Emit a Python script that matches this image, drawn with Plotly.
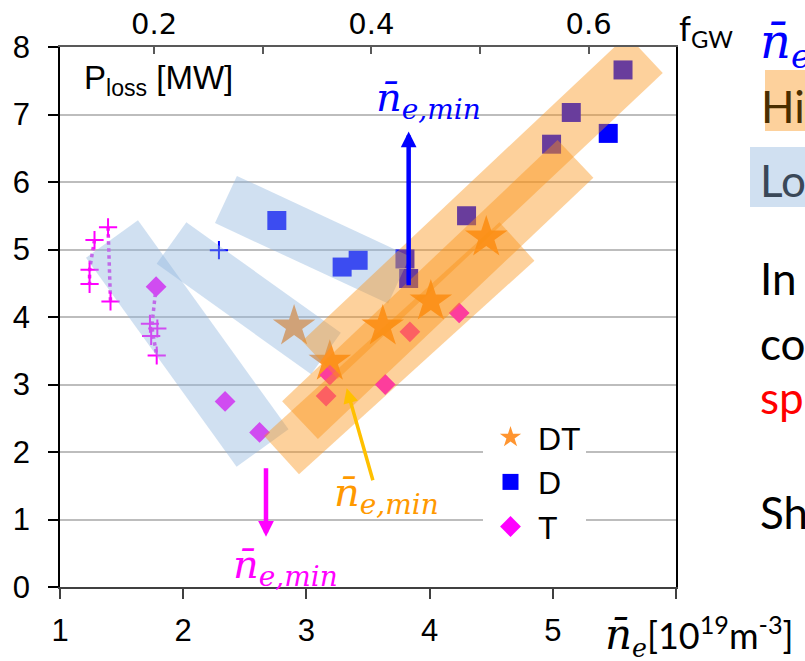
import math
import plotly.graph_objects as go

# ---------------- data ----------------
dt_x = [2.90, 3.19, 3.62, 4.01, 4.46]
dt_y = [3.86, 3.34, 3.86, 4.23, 5.18]

d_x = [2.76, 3.29, 3.42, 3.80, 3.83, 4.30, 4.99, 5.15, 5.57, 5.45]
d_y = [5.43, 4.74, 4.84, 4.86, 4.57, 5.50, 6.56, 7.03, 7.66, 6.72]

t_x = [1.78, 2.34, 2.62, 3.19, 3.16, 3.64, 3.84, 4.24]
t_y = [4.45, 2.75, 2.29, 3.14, 2.83, 3.00, 3.78, 4.06]

tplus_x = [1.39, 1.28, 1.24, 1.24, 1.41, 1.73, 1.79, 1.74, 1.785]
tplus_y = [5.33, 5.14, 4.70, 4.49, 4.23, 3.90, 3.83, 3.72, 3.43]

dplus_x = [2.29]
dplus_y = [4.99]

# dotted scan paths (T)
path1_x = [1.39, 1.41]
path1_y = [5.33, 4.23]
path2_x = [1.28, 1.24, 1.24]
path2_y = [5.14, 4.70, 4.49]
path3_x = [1.78, 1.745, 1.785]
path3_y = [4.45, 3.86, 3.43]

x_ticks = [1, 2, 3, 4, 5, 6]
x_ticktext = ["1", "2", "3", "4", "5", ""]
y_ticks = [0, 1, 2, 3, 4, 5, 6, 7, 8]
fgw_ticks = [0.2, 0.3, 0.4, 0.5, 0.6]
fgw_ticktext = ["0.2", "", "0.4", "", "0.6"]
FGW_PER_NE = 0.1134

# ---------------- layout geometry ----------------
W, H = 805, 661
ML, MR, MT, MB = 60, 129, 47, 74
X0, X1 = 1, 6
Y0, Y1 = 0, 8
PW, PH = W - ML - MR, H - MT - MB
SX = PW / (X1 - X0)
SY = PH / (Y1 - Y0)

BLUE_BAND = "rgba(143,181,222,0.42)"
ORANGE_BAND = "rgba(250,145,20,0.42)"

# highlight bands: (start(x,y), end(x,y), width in px)
blue_bands = [((1.422, 5.156), (2.644, 2.059), 64),
              ((1.905, 5.096), (3.159, 3.459), 51),
              ((2.347, 5.741), (3.752, 4.548), 52)]
orange_bands = [((3.110, 3.363), (5.748, 7.896), 52),
                ((2.948, 2.474), (5.184, 6.341), 52),
                ((2.798, 1.956), (4.709, 5.119), 52)]


def band_path(a, b, wpx):
    ax, ay = a[0] * SX, a[1] * SY
    bx, by = b[0] * SX, b[1] * SY
    dx, dy = bx - ax, by - ay
    L = math.hypot(dx, dy)
    nx, ny = -dy / L * wpx / 2, dx / L * wpx / 2
    pts = [(ax + nx, ay + ny), (bx + nx, by + ny), (bx - nx, by - ny), (ax - nx, ay - ny)]
    return "M " + " L ".join(f"{px / SX:.4f},{py / SY:.4f}" for px, py in pts) + " Z"


def px2paper(px, py):
    return (px - ML) / PW, (H - MB - py) / PH


fig = go.Figure()

MAG = "#FF00FF"
dot_line = dict(color="#E434F0", width=3.5, dash="dot")
for px_, py_ in [(path1_x, path1_y), (path2_x, path2_y), (path3_x, path3_y)]:
    fig.add_trace(go.Scatter(x=px_, y=py_, mode="lines", line=dot_line,
                             showlegend=False, hoverinfo="skip"))

fig.add_trace(go.Scatter(x=tplus_x, y=tplus_y, mode="markers", showlegend=False,
                         marker=dict(symbol="cross-thin", size=13,
                                     line=dict(color=MAG, width=2))))
fig.add_trace(go.Scatter(x=dplus_x, y=dplus_y, mode="markers", showlegend=False,
                         marker=dict(symbol="cross-thin", size=13,
                                     line=dict(color="#0000FF", width=2))))

fig.add_trace(go.Scatter(x=dt_x, y=dt_y, mode="markers", name="DT",
                         marker=dict(symbol="star", size=32, color="#FF9530",
                                     line=dict(width=0))))
fig.add_trace(go.Scatter(x=d_x, y=d_y, mode="markers", name="D",
                         marker=dict(symbol="square", size=19, color="#0000FF",
                                     line=dict(width=0))))
fig.add_trace(go.Scatter(x=t_x, y=t_y, mode="markers", name="T",
                         marker=dict(symbol="diamond", size=16, color=MAG,
                                     line=dict(width=0))))
# invisible trace to activate the top f_GW axis
fig.add_trace(go.Scatter(x=[], y=[], xaxis="x2", showlegend=False))

shapes = []
for a, b, w in blue_bands:
    shapes.append(dict(type="path", path=band_path(a, b, w), fillcolor=BLUE_BAND,
                       line=dict(width=0), layer="above", xref="x", yref="y"))
for a, b, w in orange_bands:
    shapes.append(dict(type="path", path=band_path(a, b, w), fillcolor=ORANGE_BAND,
                       line=dict(width=0), layer="above", xref="x", yref="y"))

# highlight boxes of the slide text at the right
for (x0p, y0p, x1p, y1p), col in [((765, 70, 810, 131), ORANGE_BAND),
                                  ((750, 147, 810, 207), BLUE_BAND)]:
    a0 = px2paper(x0p, y1p)
    a1 = px2paper(x1p, y0p)
    shapes.append(dict(type="rect", xref="paper", yref="paper", x0=a0[0], y0=a0[1],
                       x1=a1[0], y1=a1[1], fillcolor=col, line=dict(width=0), layer="below"))

SERIF = "DejaVu Serif"
SANS = "Lato"
NBAR = "n\u0304"

ann = []
# arrows
ann.append(dict(x=3.83, y=6.75, ax=3.83, ay=4.45, xref="x", yref="y", axref="x", ayref="y",
                showarrow=True, arrowhead=2, arrowwidth=4.5, arrowsize=0.7,
                arrowcolor="#0000FF", text="", standoff=0))
ann.append(dict(x=3.327, y=2.944, ax=3.543, ay=1.56, xref="x", yref="y", axref="x", ayref="y",
                showarrow=True, arrowhead=2, arrowwidth=3.5, arrowsize=0.85,
                arrowcolor="#FFC000", text="", standoff=0))
ann.append(dict(x=2.672, y=0.745, ax=2.672, ay=1.782, xref="x", yref="y", axref="x", ayref="y",
                showarrow=True, arrowhead=2, arrowwidth=4.5, arrowsize=0.7,
                arrowcolor=MAG, text="", standoff=0))
# n_e,min labels
for (lx, ly), col in [((3.987, 7.22), "#0000FF"), ((3.654, 1.36), "#FF9900"),
                      ((2.834, 0.30), MAG)]:
    ann.append(dict(x=lx, y=ly, xref="x", yref="y", showarrow=False,
                    text=f"<i>{NBAR}<sub>e,min</sub></i>",
                    font=dict(family=SERIF, size=40, color=col),
                    xanchor="center", yanchor="middle"))

# P_loss label
p = px2paper(82, 80)
ann.append(dict(x=p[0], y=p[1], xref="paper", yref="paper", showarrow=False,
                text="P<sub>loss</sub> [MW]", xanchor="left", yanchor="middle",
                font=dict(family="Liberation Sans, Arial", size=33, color="#000000")))
# f_GW label
p = px2paper(677, 30)
ann.append(dict(x=p[0], y=p[1], xref="paper", yref="paper", showarrow=False,
                text="f<sub>GW</sub>", xanchor="left", yanchor="middle",
                font=dict(family=SANS, size=34, color="#000000")))
# x-axis title
p = px2paper(603, 636)
ann.append(dict(x=p[0], y=p[1], xref="paper", yref="paper", showarrow=False,
                text=(f"<span style=\"font-family:'{SERIF}';font-size:42px\"><i>{NBAR}</i></span>"
                      f"<sub><span style=\"font-family:'{SERIF}'\"><i>e</i></span></sub>"
                      "[10<sup>19</sup>m<sup>-3</sup>]"),
                xanchor="left", yanchor="middle",
                font=dict(family=SANS, size=36, color="#000000")))

# truncated slide text on the right
right_texts = [
    (758, 45, f"<i>{NBAR}<sub>e</sub></i>", SERIF, 48, "#0000FF"),
    (759, 106, "Hi", SANS, 44, "#4A2E00"),
    (758, 180, "Lo", SANS, 44, "#3A4858"),
    (758, 278, "In", SANS, 44, "#000000"),
    (758, 343, "co", SANS, 44, "#000000"),
    (758, 397, "sp", SANS, 44, "#FF0000"),
    (758, 512, "Sh", SANS, 44, "#000000"),
]
for xp, yp, txt, fam, sz, col in right_texts:
    p = px2paper(xp, yp)
    ann.append(dict(x=p[0], y=p[1], xref="paper", yref="paper", showarrow=False,
                    text=txt, xanchor="left", yanchor="middle",
                    font=dict(family=fam, size=sz, color=col)))

TICKFONT = dict(family="Liberation Sans, Arial", size=31, color="#000000")

fig.update_layout(
    width=W, height=H,
    margin=dict(l=ML, r=MR, t=MT, b=MB, autoexpand=False),
    paper_bgcolor="white", plot_bgcolor="white",
    showlegend=True,
    legend=dict(x=px2paper(483, 0)[0], y=px2paper(0, 410)[1], xanchor="left", yanchor="top",
                bgcolor="white", borderwidth=0, itemwidth=45,
                font=dict(family="Liberation Sans, Arial", size=32, color="#000000"),
                tracegroupgap=0),
    xaxis=dict(range=[X0, X1], tickmode="array", tickvals=x_ticks, ticktext=x_ticktext,
               ticks="outside", ticklen=10, tickwidth=1.5, tickcolor="#404040",
               showgrid=False, zeroline=False, showline=True, linecolor="#404040",
               linewidth=1.5, tickfont=TICKFONT, ticklabelstandoff=5, automargin=False),
    yaxis=dict(range=[Y0, Y1], tickmode="array", tickvals=y_ticks,
               ticks="outside", ticklen=10, tickwidth=1.5, tickcolor="#000000",
               showgrid=True, gridcolor="#BDBDBD", gridwidth=1.5, zeroline=False,
               showline=True, linecolor="#000000", linewidth=1.5, mirror=True,
               tickfont=TICKFONT, ticklabelstandoff=12, automargin=False),
    xaxis2=dict(overlaying="x", side="top", anchor="y",
                range=[X0 * FGW_PER_NE, X1 * FGW_PER_NE],
                tickmode="array", tickvals=fgw_ticks, ticktext=fgw_ticktext,
                ticks="inside", ticklen=7, tickwidth=1.5, tickcolor="#595959",
                showgrid=False, zeroline=False, showline=True, linecolor="#595959",
                linewidth=1.5, automargin=False, ticklabelstandoff=0,
                tickfont=dict(family="DejaVu Sans", size=29, color="#000000")),
    shapes=shapes,
    annotations=ann,
)

fig.write_html("out.html")
